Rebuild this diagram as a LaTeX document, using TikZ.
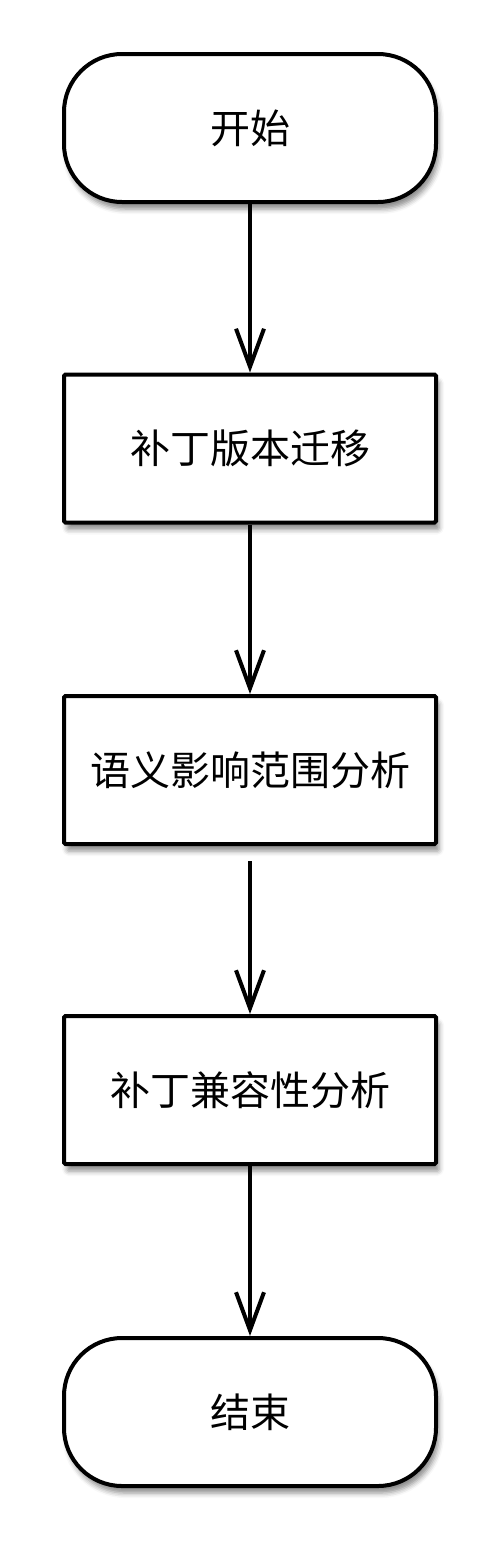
\documentclass[tikz,border=0pt]{standalone}
\usepackage{fontspec}
\newfontfamily\cjk{Noto Sans CJK SC}
\usetikzlibrary{arrows.meta,shadows.blur}
\begin{document}
\begin{tikzpicture}[x=1pt,y=-1pt,
  base/.style={draw=black,line width=4pt,fill=white,minimum width=372pt,minimum height=148pt,
    font=\cjk\fontsize{40}{40}\selectfont,inner sep=0pt,
    blur shadow={shadow xshift=3pt,shadow yshift=-7pt,shadow blur radius=5pt,shadow opacity=45}},
  term/.style={base,rounded corners=58pt},
  proc/.style={base,rounded corners=1.5pt},
  flow/.style={line width=4pt,-{Straight Barb[length=38pt,width=28pt,line width=4pt]}}]
\useasboundingbox (0,0) rectangle (499,1558);
\node[term] (start) at (250,128) {开始};
\node[proc] (p1) at (250,448.5) {补丁版本迁移};
\node[proc] (p2) at (250,770) {语义影响范围分析};
\node[proc] (p3) at (250,1090) {补丁兼容性分析};
\node[term] (end) at (250,1412) {结束};
\draw[flow] (start) -- (p1);
\draw[flow] (p1) -- (p2);
\draw[flow,shorten <=15pt] (p2) -- (p3);
\draw[flow] (p3) -- (end);
\end{tikzpicture}
\end{document}
